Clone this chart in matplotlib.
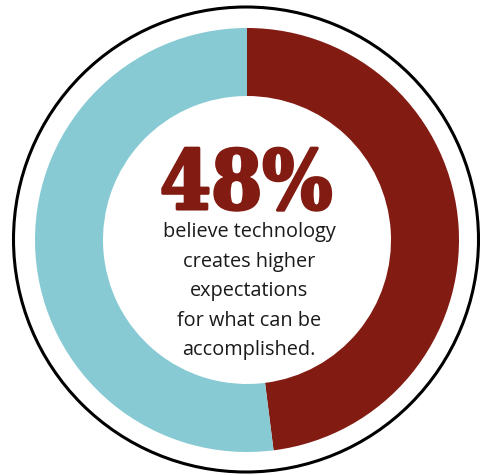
import matplotlib
matplotlib.use("Agg")
import matplotlib.pyplot as plt
from matplotlib.patches import Circle
import matplotlib.patheffects as pe

# Data
labels = ["Believe technology creates higher expectations", "Others"]
values = [48, 52]
colors = ["#821B11", "#87CAD3"]
headline = "48%"
caption_lines = ["believe technology", "creates higher", "expectations",
                 "for what can be", "accomplished."]

W, H = 482, 475
fig = plt.figure(figsize=(W / 100, H / 100), dpi=100)
ax = fig.add_axes([0, 0, 1, 1])

cx, cy = 247, H - 240
ax.pie(values, colors=colors, startangle=90, counterclock=False,
       radius=212, center=(cx, cy),
       wedgeprops=dict(width=68, linewidth=0), frame=True)
ax.set_xlim(0, W)
ax.set_ylim(0, H)
ax.set_aspect("equal")
ax.axis("off")

ax.add_patch(Circle((246, H - 239.5), 232.5, fill=False,
                    edgecolor="black", linewidth=2.2))

ax.text(246, H - 209, headline, ha="center", va="baseline",
        fontsize=59, fontweight="bold", family="DejaVu Serif",
        fontstretch="condensed", color=colors[0],
        path_effects=[pe.withStroke(linewidth=2.2, foreground=colors[0])])

baselines = [236.7, 266.5, 296, 325.5, 355]
for line, b in zip(caption_lines, baselines):
    ax.text(249, H - b, line, ha="center", va="baseline",
            fontsize=14.3, family="Open Sans", color="#1a1a1a")

fig.savefig("out.png", dpi=100)
